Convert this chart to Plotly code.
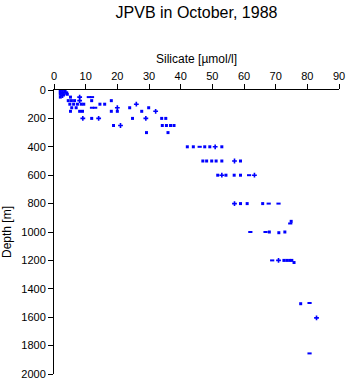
import plotly.graph_objects as go

# Silicate [µmol/l] and depth [m] for three marker groups
square_silicate = [2.0, 2.0, 2.0, 2.0, 2.0, 3.5, 4.0, 4.2,
                   5.2, 4.5, 5.5, 6.5, 11.9, 18.1,
                   5.0, 6.2, 7.4, 8.6, 9.4, 14.5, 16.0,
                   5.6, 7.0, 23.9, 29.9,
                   5.2, 8.1, 9.0, 18.1, 20.0, 27.7,
                   11.9, 24.8, 34.0, 35.3,
                   18.8, 34.2, 35.5, 36.8, 37.9,
                   29.2, 36.0,
                   42.1, 44.0, 47.6, 49.2, 53.0,
                   47.0, 48.2, 49.8, 51.2, 53.0, 58.9,
                   51.7, 54.3, 56.9, 58.9,
                   58.9, 61.0, 65.9,
                   74.9,
                   68.0, 71.0, 72.9,
                   72.6, 73.5, 74.4, 75.1, 75.8,
                   77.9]
square_depth = [0, 10, 20, 30, 50, 10, 20, 30,
                50, 75, 75, 75, 75, 75,
                100, 100, 100, 100, 100, 100, 100,
                125, 125, 125, 125,
                150, 150, 150, 150, 150, 150,
                200, 200, 200, 200,
                250, 250, 250, 250, 250,
                300, 300,
                400, 400, 400, 400, 400,
                500, 500, 500, 500, 500, 500,
                600, 600, 600, 600,
                800, 800, 800,
                925,
                1000, 1005, 1000,
                1200, 1200, 1200, 1200, 1215,
                1505]

cross_silicate = [2.8, 2.8, 2.7, 8.1, 8.1, 26.0, 20.0, 32.1,
                  9.1, 14.1, 29.0, 21.0, 50.9, 57.0, 53.0, 63.3,
                  57.0, 70.9, 82.9]
cross_depth = [0, 20, 40, 50, 75, 100, 125, 150,
               200, 200, 200, 250, 400, 500, 600, 600,
               800, 1200, 1605]

dash_silicate = [3.0, 11.0, 12.0, 12.0, 13.0, 46.0, 61.6,
                 67.8, 70.9, 74.6, 62.0, 66.8, 68.9, 80.7, 80.7]
dash_depth = [30, 50, 50, 125, 125, 400, 600,
              800, 800, 940, 1000, 1000, 1200, 1500, 1855]

x_ticks = [0, 10, 20, 30, 40, 50, 60, 70, 80, 90]
y_ticks = [0, 200, 400, 600, 800, 1000, 1200, 1400, 1600, 1800, 2000]

BLUE = "#0000ff"
FONT = "Liberation Sans"

fig = go.Figure()
fig.add_trace(go.Scatter(x=square_silicate, y=square_depth, mode="markers",
                         marker=dict(symbol="square", size=3, color=BLUE,
                                     line=dict(width=0))))
fig.add_trace(go.Scatter(x=cross_silicate, y=cross_depth, mode="markers",
                         marker=dict(symbol="cross", size=4, color=BLUE,
                                     line=dict(width=0))))
fig.add_trace(go.Scatter(x=dash_silicate, y=dash_depth, mode="markers",
                         marker=dict(symbol="line-ew", size=3, color=BLUE,
                                     line=dict(width=2, color=BLUE))))

axis_common = dict(showline=True, linecolor="black", linewidth=1,
                   ticks="outside", ticklen=5, tickwidth=1, tickcolor="black",
                   showgrid=False, zeroline=False, automargin=False,
                   tickfont=dict(family=FONT, size=11, color="black"))

fig.update_layout(
    width=348, height=384,
    margin=dict(l=54, r=9, t=90, b=10, pad=0, autoexpand=False),
    paper_bgcolor="white", plot_bgcolor="white",
    showlegend=False,
    font=dict(family=FONT, color="black"),
    title=dict(text="JPVB in October, 1988", x=0.5, xref="paper",
               y=1 - 12 / 384, yref="container", yanchor="middle",
               xanchor="center", font=dict(family=FONT, size=16, color="black")),
    xaxis=dict(side="top", range=[0, 90], tickvals=x_ticks,
               title=dict(text="Silicate [µmol/l]", standoff=3,
                          font=dict(family=FONT, size=12, color="black")),
               **axis_common),
    yaxis=dict(range=[2000, 0], tickvals=y_ticks,
               title=dict(text="Depth [m]", standoff=8,
                          font=dict(family=FONT, size=12, color="black")),
               **axis_common),
)

fig.write_html("out.html")
